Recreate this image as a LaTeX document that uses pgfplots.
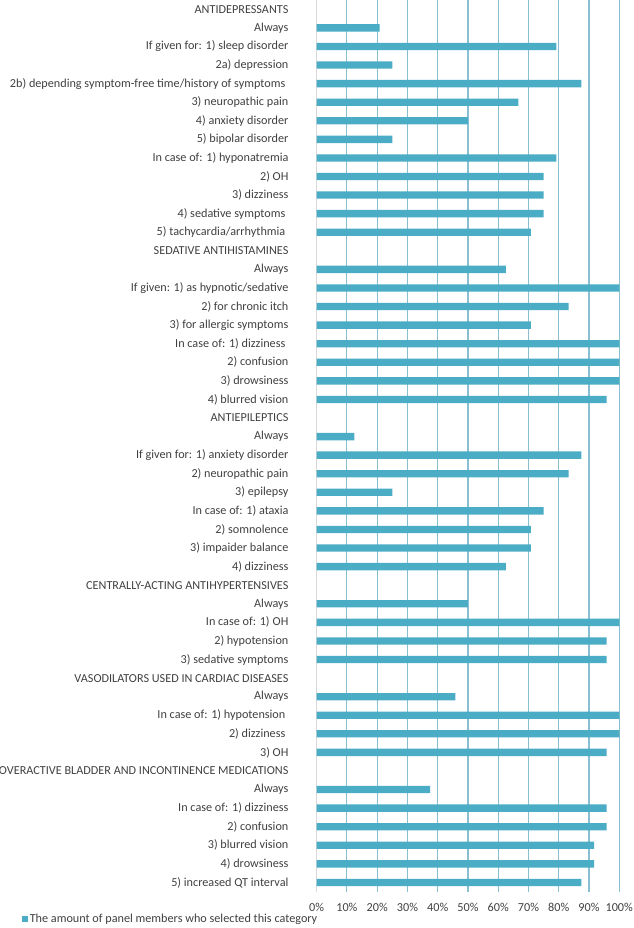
\documentclass[border=0pt]{standalone}
\usepackage{pgfplots}
\pgfplotsset{compat=1.18}
\usepackage{fontspec}
\setmainfont{Carlito}
\definecolor{barc}{RGB}{75,172,198}
\definecolor{gridc}{RGB}{136,191,210}
\definecolor{txt}{RGB}{64,64,64}
\begin{document}
\begin{tikzpicture}
\begin{axis}[
  at={(0,0)}, anchor=south west,
  scale only axis, width=226.95pt, height=668.8pt,
  xbar, bar width=5.5pt,
  xmin=0, xmax=100, ymin=0.5, ymax=48.5, y dir=reverse,
  xtick={10,20,...,100},
  xticklabels={10\%,20\%,30\%,40\%,50\%,60\%,70\%,80\%,90\%,100\%},
  extra x ticks={0}, extra x tick labels={0\%},
  extra x tick style={grid style={draw=gray!30, line width=0.85pt}},
  ytick={1,...,48},
  yticklabels={
    {ANTIDEPRESSANTS},
    {Always},
    {If given for: 1) sleep disorder},
    {2a) depression},
    {2b) depending symptom-free time/history of symptoms\kern.25em},
    {3) neuropathic pain},
    {4) anxiety disorder},
    {5) bipolar disorder},
    {In case of: 1) hyponatremia},
    {2) OH},
    {3) dizziness},
    {4) sedative symptoms\kern.25em},
    {5) tachycardia/arrhythmia\kern.25em},
    {SEDATIVE ANTIHISTAMINES},
    {Always},
    {If given: 1) as hypnotic/sedative},
    {2) for chronic itch},
    {3) for allergic symptoms},
    {In case of: 1) dizziness\kern.25em},
    {2) confusion},
    {3) drowsiness},
    {4) blurred vision},
    {ANTIEPILEPTICS},
    {Always},
    {If given for: 1) anxiety disorder},
    {2) neuropathic pain},
    {3) epilepsy},
    {In case of: 1) ataxia},
    {2) somnolence},
    {3) impaider balance},
    {4) dizziness},
    {CENTRALLY-ACTING ANTIHYPERTENSIVES},
    {Always},
    {In case of: 1)\kern.25em OH},
    {2) hypotension},
    {3) sedative symptoms},
    {VASODILATORS USED IN CARDIAC DISEASES},
    {Always},
    {In case of: 1) hypotension\kern.25em},
    {2) dizziness\kern.25em},
    {3) OH},
    {OVERACTIVE BLADDER AND INCONTINENCE MEDICATIONS},
    {Always},
    {In case of: 1) dizziness},
    {2) confusion},
    {3) blurred vision},
    {4) drowsiness},
    {5) increased QT interval}
  },
  xmajorgrids, grid style={draw=gridc, line width=0.85pt},
  axis line style={draw=none},
  major tick length=0pt,
  tick label style={font=\fontsize{9.15}{10}\selectfont, text=txt},
  yticklabel style={anchor=east, inner sep=0pt, xshift=-21pt},
  xticklabel style={anchor=base, inner sep=0pt, yshift=-14.5pt},
  legend style={at={(-0.975,-0.031)}, anchor=west, draw=none, fill=none,
    inner sep=0pt, font=\fontsize{9.15}{10}\selectfont, text=txt,
    nodes={inner sep=1.5pt}},
  legend image code/.code={\fill[barc] (0pt,-2.2pt) rectangle (4.4pt,2.2pt);},
]
\addplot[draw=none, fill=barc] coordinates {
  (20.8,2) (79.2,3) (25,4) (87.5,5) (66.7,6) (50,7) (25,8)
  (79.2,9) (75,10) (75,11) (75,12) (70.8,13)
  (62.5,15) (100,16) (83.3,17) (70.8,18) (100,19) (100,20) (100,21) (95.8,22)
  (12.5,24) (87.5,25) (83.3,26) (25,27) (75,28) (70.8,29) (70.8,30) (62.5,31)
  (50,33) (100,34) (95.8,35) (95.8,36)
  (45.8,38) (100,39) (100,40) (95.8,41)
  (37.5,43) (95.8,44) (95.8,45) (91.7,46) (91.7,47) (87.5,48)
};
\addlegendentry{The amount of panel members who selected this category}
\end{axis}
\pgfresetboundingbox
\path (-237.5pt,-27.2pt) rectangle (237.25pt,668.8pt);
\end{tikzpicture}
\end{document}
